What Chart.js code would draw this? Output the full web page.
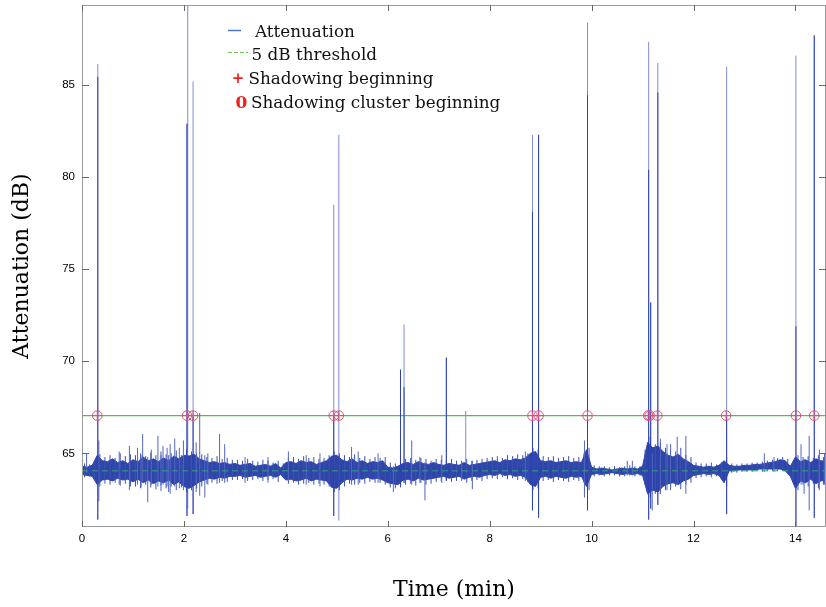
<!DOCTYPE html>
<html lang="en">
<head>
<meta charset="UTF-8">
<title>Attenuation vs time</title>
<script src="https://cdn.jsdelivr.net/npm/chart.js"></script>
<style>
  body { margin: 0; background: #fff; }
  #wrap { width: 826px; height: 607px; }
</style>
</head>
<body>
<div id="wrap"><canvas id="attChart" width="826" height="607"></canvas></div>
<script>
// axis limits
const timeRange = [0, 14.6];
const dbRange = [61, 89.35];
const thresholdDb = 67.05;   // shadowing detection level
const meanDb = 64.05;        // long-term mean attenuation

// dense noise band, sampled every 0.1 min: upper and lower envelope (dB)
const bandTime = [
  0.0, 0.1, 0.2, 0.3, 0.4, 0.5, 0.6, 0.7, 0.8, 0.9,
  1.0, 1.1, 1.2, 1.3, 1.4, 1.5, 1.6, 1.7, 1.8, 1.9,
  2.0, 2.1, 2.2, 2.3, 2.4, 2.5, 2.6, 2.7, 2.8, 2.9,
  3.0, 3.1, 3.2, 3.3, 3.4, 3.5, 3.6, 3.7, 3.8, 3.9,
  4.0, 4.1, 4.2, 4.3, 4.4, 4.5, 4.6, 4.7, 4.8, 4.9,
  5.0, 5.1, 5.2, 5.3, 5.4, 5.5, 5.6, 5.7, 5.8, 5.9,
  6.0, 6.1, 6.2, 6.3, 6.4, 6.5, 6.6, 6.7, 6.8, 6.9,
  7.0, 7.1, 7.2, 7.3, 7.4, 7.5, 7.6, 7.7, 7.8, 7.9,
  8.0, 8.1, 8.2, 8.3, 8.4, 8.5, 8.6, 8.7, 8.8, 8.9,
  9.0, 9.1, 9.2, 9.3, 9.4, 9.5, 9.6, 9.7, 9.8, 9.9,
  10.0, 10.1, 10.2, 10.3, 10.4, 10.5, 10.6, 10.7, 10.8, 10.9,
  11.0, 11.1, 11.2, 11.3, 11.4, 11.5, 11.6, 11.7, 11.8, 11.9,
  12.0, 12.1, 12.2, 12.3, 12.4, 12.5, 12.6, 12.7, 12.8, 12.9,
  13.0, 13.1, 13.2, 13.3, 13.4, 13.5, 13.6, 13.7, 13.8, 13.9,
  14.0, 14.1, 14.2, 14.3, 14.4, 14.5, 14.6
];
const bandTop = [
  64.30, 64.25, 64.35, 64.90, 64.60, 64.55, 64.70, 64.50, 64.60, 64.45,
  64.65, 64.55, 64.80, 64.60, 64.70, 64.55, 64.75, 64.60, 64.85, 64.70,
  64.90, 64.85, 64.95, 64.70, 64.60, 64.50, 64.55, 64.45, 64.50, 64.40,
  64.45, 64.35, 64.40, 64.45, 64.30, 64.35, 64.40, 64.30, 64.45, 64.20,
  64.50, 64.55, 64.45, 64.60, 64.50, 64.55, 64.40, 64.50, 64.60, 64.85,
  64.90, 64.65, 64.55, 64.70, 64.50, 64.60, 64.45, 64.55, 64.50, 64.60,
  64.25, 64.20, 64.30, 64.45, 64.50, 64.40, 64.55, 64.45, 64.40, 64.50,
  64.40, 64.35, 64.45, 64.40, 64.35, 64.50, 64.35, 64.40, 64.45, 64.50,
  64.55, 64.60, 64.50, 64.65, 64.60, 64.70, 64.65, 64.75, 65.00, 65.10,
  64.60, 64.55, 64.60, 64.50, 64.55, 64.60, 64.50, 64.55, 64.50, 65.20,
  64.25, 64.15, 64.20, 64.15, 64.10, 64.15, 64.20, 64.15, 64.20, 64.15,
  64.30, 65.60, 65.30, 65.40, 65.10, 64.90, 64.80, 64.95, 64.70, 64.55,
  64.35, 64.30, 64.25, 64.30, 64.25, 64.35, 64.60, 64.35, 64.30, 64.30,
  64.35, 64.35, 64.40, 64.40, 64.45, 64.50, 64.55, 64.65, 64.60, 64.30,
  64.80, 64.55, 64.65, 64.50, 64.70, 64.60, 64.55
];
const bandBottom = [
  63.85, 63.80, 63.75, 63.30, 63.55, 63.60, 63.50, 63.65, 63.55, 63.60,
  63.45, 63.60, 63.40, 63.55, 63.35, 63.50, 63.40, 63.55, 63.30, 63.45,
  63.20, 63.10, 63.25, 63.45, 63.55, 63.65, 63.60, 63.70, 63.65, 63.75,
  63.75, 63.80, 63.70, 63.75, 63.80, 63.70, 63.75, 63.80, 63.70, 63.85,
  63.55, 63.60, 63.50, 63.55, 63.65, 63.50, 63.60, 63.55, 63.50, 63.15,
  63.10, 63.40, 63.60, 63.55, 63.65, 63.60, 63.70, 63.60, 63.65, 63.55,
  63.40, 63.35, 63.30, 63.55, 63.60, 63.50, 63.65, 63.55, 63.60, 63.65,
  63.70, 63.75, 63.65, 63.70, 63.75, 63.60, 63.70, 63.75, 63.70, 63.80,
  63.85, 63.80, 63.90, 63.80, 63.85, 63.75, 63.80, 63.70, 63.30, 63.20,
  63.70, 63.75, 63.65, 63.75, 63.70, 63.65, 63.75, 63.70, 63.75, 63.20,
  63.85, 63.90, 63.85, 63.90, 63.95, 63.90, 63.85, 63.90, 63.85, 63.90,
  63.80, 62.80, 63.00, 62.90, 63.20, 63.35, 63.40, 63.30, 63.50, 63.60,
  63.80, 63.85, 63.90, 63.85, 63.90, 63.80, 63.40, 64.05, 64.05, 64.10,
  64.10, 64.10, 64.10, 64.15, 64.15, 64.15, 64.15, 64.15, 64.05, 63.75,
  63.10, 63.50, 63.40, 63.60, 63.35, 63.50, 63.55
];

// ragged fringe around the band, between the band samples (dB)
const fringeTime = [
  0.05, 0.15, 0.25, 0.35, 0.45, 0.55, 0.65, 0.75, 0.85, 0.95,
  1.05, 1.15, 1.25, 1.35, 1.45, 1.55, 1.65, 1.75, 1.85, 1.95,
  2.05, 2.15, 2.25, 2.35, 2.45, 2.55, 2.65, 2.75, 2.85, 2.95,
  3.05, 3.15, 3.25, 3.35, 3.45, 3.55, 3.65, 3.75, 3.85, 3.95,
  4.05, 4.15, 4.25, 4.35, 4.45, 4.55, 4.65, 4.75, 4.85, 4.95,
  5.05, 5.15, 5.25, 5.35, 5.45, 5.55, 5.65, 5.75, 5.85, 5.95,
  6.05, 6.15, 6.25, 6.35, 6.45, 6.55, 6.65, 6.75, 6.85, 6.95,
  7.05, 7.15, 7.25, 7.35, 7.45, 7.55, 7.65, 7.75, 7.85, 7.95,
  8.05, 8.15, 8.25, 8.35, 8.45, 8.55, 8.65, 8.75, 8.85, 8.95,
  9.05, 9.15, 9.25, 9.35, 9.45, 9.55, 9.65, 9.75, 9.85, 9.95,
  10.05, 10.15, 10.25, 10.35, 10.45, 10.55, 10.65, 10.75, 10.85, 10.95,
  11.05, 11.15, 11.25, 11.35, 11.45, 11.55, 11.65, 11.75, 11.85, 11.95,
  12.05, 12.15, 12.25, 12.35, 12.45, 12.55, 12.65, 12.75, 12.85, 12.95,
  13.05, 13.15, 13.25, 13.35, 13.45, 13.55, 13.65, 13.75, 13.85, 13.95,
  14.05, 14.15, 14.25, 14.35, 14.45, 14.55
];
const fringeHigh = [
  64.45, 64.40, 64.50, 64.95, 64.80, 64.90, 64.75, 65.00, 64.85, 64.95,
  64.90, 65.00, 64.85, 65.05, 64.90, 65.10, 64.95, 65.00, 65.15, 64.90,
  65.20, 65.10, 65.00, 64.95, 64.80, 64.75, 64.85, 64.70, 64.75, 64.65,
  64.65, 64.60, 64.70, 64.60, 64.55, 64.65, 64.60, 64.50, 64.60, 64.45,
  64.75, 64.80, 64.70, 64.85, 64.75, 64.80, 64.70, 64.75, 64.90, 65.10,
  65.00, 64.90, 64.80, 64.95, 64.75, 64.85, 64.70, 64.80, 64.75, 64.80,
  64.50, 64.45, 64.60, 64.70, 64.75, 64.65, 64.75, 64.70, 64.60, 64.70,
  64.65, 64.60, 64.70, 64.60, 64.55, 64.70, 64.60, 64.65, 64.70, 64.75,
  64.80, 64.85, 64.75, 64.90, 64.85, 64.95, 64.90, 65.00, 65.30, 65.20,
  64.85, 64.80, 64.85, 64.75, 64.80, 64.85, 64.75, 64.80, 65.00, 65.30,
  64.35, 64.30, 64.30, 64.25, 64.30, 64.25, 64.30, 64.35, 64.30, 64.30,
  65.20, 65.90, 65.50, 65.60, 65.30, 65.20, 65.10, 65.30, 64.90, 64.80,
  64.50, 64.45, 64.45, 64.50, 64.40, 64.50, 64.80, 64.45, 64.40, 64.45,
  64.45, 64.50, 64.50, 64.55, 64.60, 64.65, 64.75, 64.80, 64.70, 64.50,
  64.90, 64.80, 64.85, 64.75, 64.90, 64.80
];
const fringeLow = [
  63.70, 63.75, 63.65, 63.20, 63.35, 63.30, 63.40, 63.25, 63.35, 63.20,
  63.20, 63.10, 63.30, 63.15, 63.05, 63.25, 63.10, 63.20, 63.00, 63.15,
  62.90, 63.00, 63.10, 63.20, 63.35, 63.40, 63.35, 63.50, 63.45, 63.55,
  63.55, 63.60, 63.50, 63.55, 63.60, 63.50, 63.55, 63.60, 63.45, 63.65,
  63.35, 63.40, 63.30, 63.35, 63.40, 63.30, 63.35, 63.30, 63.20, 62.90,
  63.00, 63.20, 63.35, 63.30, 63.40, 63.35, 63.45, 63.40, 63.40, 63.30,
  63.15, 63.10, 63.15, 63.30, 63.35, 63.25, 63.40, 63.30, 63.35, 63.45,
  63.50, 63.55, 63.45, 63.50, 63.55, 63.40, 63.50, 63.55, 63.50, 63.60,
  63.65, 63.60, 63.70, 63.60, 63.65, 63.55, 63.60, 63.45, 63.00, 63.10,
  63.50, 63.55, 63.45, 63.55, 63.50, 63.45, 63.55, 63.50, 63.40, 63.00,
  63.75, 63.80, 63.75, 63.80, 63.80, 63.75, 63.75, 63.80, 63.75, 63.80,
  63.30, 62.60, 62.80, 62.80, 63.00, 63.10, 63.20, 63.05, 63.30, 63.40,
  63.65, 63.70, 63.75, 63.70, 63.75, 63.65, 63.20, 63.95, 63.95, 64.00,
  64.00, 64.00, 64.05, 64.00, 64.05, 64.05, 64.05, 64.05, 63.90, 63.50,
  63.00, 63.30, 63.20, 63.35, 63.10, 63.30
];

// short excursions out of the band: time, peak and dip (dB)
const flickTime = [0.09, 0.33, 0.73, 0.93, 1.09, 1.16, 1.19, 1.29, 1.36, 1.49,
  1.55, 1.59, 1.67, 1.70, 1.73, 1.82, 1.91, 1.99, 2.24, 2.31,
  2.41, 2.47, 2.70, 2.80, 3.20, 3.65, 4.05, 4.40, 4.67, 5.29,
  5.42, 5.81, 6.11, 6.47, 6.63, 6.73, 7.06, 7.45, 7.66, 8.70,
  9.86, 10.70, 10.80, 11.19, 11.35, 11.48, 11.55, 11.68, 11.85, 13.39,
  13.58, 14.11, 14.17, 14.27, 14.47, 14.57];
const flickHigh = [65.0, 65.7, 65.1, 65.4, 65.3, 64.9, 66.05, 64.8, 65.2, 65.95,
  64.9, 65.4, 65.3, 64.9, 65.5, 65.8, 65.3, 65.7, 65.6, 67.2,
  64.9, 65.0, 66.05, 65.5, 64.8, 64.8, 65.1, 64.9, 65.0, 65.35,
  65.1, 65.0, 64.3, 65.7, 64.8, 64.5, 64.9, 64.6, 64.6, 65.1,
  65.7, 64.6, 64.6, 65.0, 65.8, 65.5, 65.5, 65.9, 65.95, 65.0,
  64.8, 65.5, 64.7, 65.95, 65.2, 65.0];
const flickLow = [63.9, 62.4, 63.3, 63.0, 63.3, 63.15, 63.4, 62.35, 63.3, 63.2,
  62.95, 63.3, 63.2, 62.9, 62.8, 63.2, 63.1, 63.0, 62.9, 62.7,
  62.6, 63.3, 63.4, 63.4, 63.4, 63.4, 63.5, 63.3, 63.2, 63.3,
  63.3, 63.4, 62.9, 63.3, 63.4, 62.45, 63.4, 63.5, 63.05, 63.5,
  62.6, 63.8, 63.8, 61.9, 62.8, 63.0, 63.0, 63.3, 62.8, 64.0,
  64.0, 63.3, 62.8, 61.9, 63.0, 63.3];

// deep fades: time, peak, dip, and top of the darker (denser) part
const spikeTime = [0.31, 2.06, 2.075, 2.18, 4.94, 5.04, 6.25, 6.32, 7.15, 7.53,
  8.84, 8.96, 9.92, 11.12, 11.16, 11.30, 12.65, 14.01, 14.37];
const spikeTop = [86.15, 82.9, 89.6, 85.2, 78.5, 82.3, 69.55, 72.0, 70.2, 67.3,
  82.3, 82.3, 88.4, 87.35, 73.2, 86.2, 86.0, 86.6, 87.7];
const spikeLow = [61.4, 61.6, 62.0, 61.7, 61.6, 61.35, 63.3, 63.4, 63.5, 63.6,
  61.9, 61.5, 61.9, 61.4, 62.0, 62.2, 61.7, 61.0, 61.5];
const spikeDarkTop = [85.45, 82.9, null, 67.0, 67.0, null, 69.55, 68.6, 70.2, null,
  78.1, 82.3, 84.45, 80.4, 73.2, 84.6, 67.0, 71.9, 87.7];

// detected shadowing starts (min)
const shadowTime = [0.30, 2.06, 2.18, 4.94, 5.04, 8.84, 8.96, 9.92, 11.11, 11.14,
  11.29, 12.64, 14.01, 14.37];

// vertical segments separated by gaps
function segments(times, lows, highs) {
  const pts = [];
  times.forEach((t, i) => {
    if (highs[i] === null) return;
    pts.push({ x: t, y: lows[i] }, { x: t, y: highs[i] }, { x: t, y: null });
  });
  return pts;
}

const bandBlue = '#2f45a8';

// MATLAB-style frame with inward ticks
const framePlugin = {
  id: 'frame',
  afterDatasetsDraw(chart) {
    const { ctx, chartArea: a, scales: { x, y } } = chart;
    ctx.save();
    ctx.strokeStyle = '#9a9a9a';
    ctx.lineWidth = 1;
    ctx.strokeRect(a.left + 0.5, a.top + 0.5, a.right - a.left - 1, a.bottom - a.top - 1);
    ctx.strokeStyle = '#666';
    ctx.beginPath();
    x.ticks.forEach(t => {
      const px = Math.round(x.getPixelForValue(t.value)) + 0.5;
      ctx.moveTo(px, a.bottom); ctx.lineTo(px, a.bottom - 6);
      ctx.moveTo(px, a.top); ctx.lineTo(px, a.top + 6);
    });
    y.ticks.forEach(t => {
      const py = Math.round(y.getPixelForValue(t.value)) + 0.5;
      ctx.moveTo(a.left, py); ctx.lineTo(a.left + 7, py);
      ctx.moveTo(a.right, py); ctx.lineTo(a.right - 7, py);
    });
    ctx.stroke();
    ctx.restore();
  }
};

// legend written inside the axes
const notePlugin = {
  id: 'notes',
  afterDraw(chart) {
    const ctx = chart.ctx;
    ctx.save();
    ctx.textBaseline = 'alphabetic';
    ctx.textAlign = 'left';
    ctx.font = '16.8px "DejaVu Serif"';

    ctx.strokeStyle = '#4a78d0';
    ctx.lineWidth = 1.5;
    ctx.beginPath(); ctx.moveTo(228, 30.5); ctx.lineTo(241, 30.5); ctx.stroke();
    ctx.fillStyle = '#111';
    ctx.fillText('Attenuation', 255, 36.5);

    ctx.strokeStyle = '#6cc24a';
    ctx.lineWidth = 1;
    ctx.setLineDash([4, 2]);
    ctx.beginPath(); ctx.moveTo(228, 52.5); ctx.lineTo(248, 52.5); ctx.stroke();
    ctx.setLineDash([]);
    ctx.fillText('5 dB threshold', 251.5, 60);

    ctx.fillText('Shadowing beginning', 248.5, 84);
    ctx.fillText('Shadowing cluster beginning', 251, 108.3);

    ctx.fillStyle = '#ee2020';
    ctx.font = 'bold 15px "DejaVu Serif"';
    ctx.textAlign = 'center';
    ctx.fillText('+', 238, 83);
    ctx.font = 'bold 17px "DejaVu Serif"';
    ctx.fillText('0', 241.5, 108.3);
    ctx.restore();
  }
};

const ctx = document.getElementById('attChart').getContext('2d');
new Chart(ctx, {
  type: 'scatter',
  data: {
    datasets: [
      {
        label: 'Shadowing cluster beginning',
        data: shadowTime.map(t => ({ x: t, y: thresholdDb })),
        pointStyle: 'circle', pointRadius: 4.8, borderWidth: 1,
        borderColor: '#e0507a', backgroundColor: 'rgba(0,0,0,0)',
        order: 0
      },
      {
        label: 'Shadowing beginning',
        data: shadowTime.map(t => ({ x: t, y: thresholdDb })),
        pointStyle: 'cross', pointRadius: 4.8, borderWidth: 1,
        borderColor: '#e0507a', order: 0
      },
      {
        label: 'Mean',
        data: timeRange.map(t => ({ x: t, y: meanDb })),
        showLine: true, pointRadius: 0, borderWidth: 1,
        borderColor: '#2aa878', borderDash: [6, 4], order: 1
      },
      {
        label: 'Fade core',
        data: segments(spikeTime, spikeLow, spikeDarkTop),
        showLine: true, spanGaps: false, pointRadius: 0, borderWidth: 1,
        borderColor: '#2c40b2', order: 2
      },
      {
        label: 'Excursions',
        data: segments(flickTime, flickLow, flickHigh),
        showLine: true, spanGaps: false, pointRadius: 0, borderWidth: 1,
        borderColor: '#5166c0', order: 3
      },
      {
        label: 'Fringe',
        data: segments(fringeTime, fringeLow, fringeHigh),
        showLine: true, spanGaps: false, pointRadius: 0, borderWidth: 1,
        borderColor: '#3a50b4', order: 3
      },
      {
        label: 'Band top',
        data: bandTime.map((t, i) => ({ x: t, y: bandTop[i] })),
        showLine: true, pointRadius: 0, borderWidth: 1,
        borderColor: bandBlue, order: 4
      },
      {
        label: 'Attenuation',
        data: bandTime.map((t, i) => ({ x: t, y: bandBottom[i] })),
        showLine: true, pointRadius: 0, borderWidth: 1,
        borderColor: bandBlue, backgroundColor: bandBlue, fill: '-1', order: 4
      },
      {
        label: 'Fades',
        data: segments(spikeTime, spikeLow, spikeTop),
        showLine: true, spanGaps: false, pointRadius: 0, borderWidth: 1,
        borderColor: '#7f8ad6', order: 5
      },
      {
        label: '5 dB threshold',
        data: timeRange.map(t => ({ x: t, y: thresholdDb })),
        showLine: true, pointRadius: 0, borderWidth: 1.2,
        borderColor: '#4cc24c', order: 6
      }
    ]
  },
  options: {
    responsive: false,
    animation: false,
    layout: { autoPadding: false, padding: { top: 5, right: 0, left: 0, bottom: 0 } },
    plugins: { legend: { display: false }, tooltip: { enabled: false } },
    scales: {
      x: {
        type: 'linear', min: timeRange[0], max: timeRange[1],
        afterFit: s => { s.height = 80; s.paddingLeft = 0; s.paddingRight = 0; },
        grid: { display: false, drawTicks: false },
        border: { display: false },
        ticks: {
          stepSize: 2, includeBounds: false, padding: 5, maxRotation: 0,
          color: '#000', font: { family: '"Liberation Sans", Arial, sans-serif', size: 11.5 }
        },
        title: {
          display: true, text: 'Time (min)', color: '#000',
          font: { family: '"DejaVu Serif", serif', size: 22 },
          padding: { top: 0, bottom: 4 }
        }
      },
      y: {
        min: dbRange[0], max: dbRange[1],
        afterFit: s => { s.width = 82; s.paddingTop = 0; s.paddingBottom = 0; },
        grid: { display: false, drawTicks: false },
        border: { display: false },
        ticks: {
          stepSize: 5, includeBounds: false, padding: 7,
          color: '#000', font: { family: '"Liberation Sans", Arial, sans-serif', size: 11.5 }
        },
        title: {
          display: true, text: 'Attenuation (dB)', color: '#000',
          font: { family: '"DejaVu Serif", serif', size: 22 },
          padding: { top: 9, bottom: 0 }
        }
      }
    }
  },
  plugins: [framePlugin, notePlugin]
});
</script>
</body>
</html>
